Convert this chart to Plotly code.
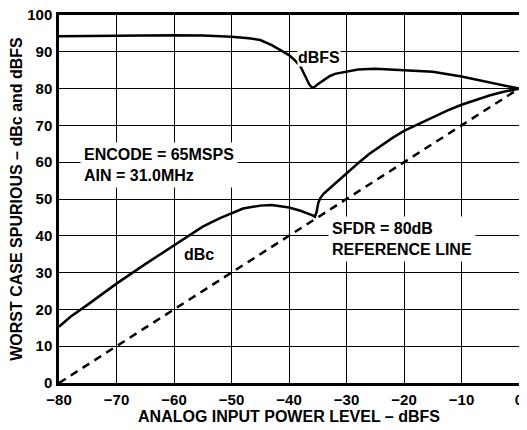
import plotly.graph_objects as go

# dBFS curve (worst case spurious, dBFS)
dbfs_x = [-80, -75, -70, -65, -60, -55, -50, -47, -45, -43, -41, -40, -39, -38, -37, -36.5, -36, -35.5, -35, -34, -33, -32, -30, -28, -25, -20, -15, -10, -5, 0]
dbfs_y = [94.2, 94.3, 94.4, 94.5, 94.5, 94.4, 94.1, 93.7, 93.2, 91.8, 90.0, 89.1, 87.7, 86.0, 82.8, 81.2, 80.2, 80.5, 81.2, 82.3, 83.3, 84.0, 84.7, 85.2, 85.4, 85.1, 84.6, 83.3, 81.6, 80.0]

# dBc curve
dbc_x = [-80, -78, -75, -70, -65, -60, -57.5, -55, -52, -50, -48, -45, -43, -40, -38, -36, -35.5, -35.2, -34.9, -34.5, -34, -33, -32, -30, -28, -26, -24, -22, -20, -17.5, -15, -12.5, -10, -7.5, -5, -2.5, 0]
dbc_y = [15.3, 18.0, 21.3, 27.0, 32.3, 37.5, 40.0, 42.5, 44.8, 46.0, 47.4, 48.2, 48.4, 47.7, 46.8, 45.6, 45.2, 46.5, 49.0, 50.4, 51.4, 52.8, 54.2, 57.0, 59.7, 62.3, 64.5, 66.6, 68.5, 70.3, 72.3, 74.0, 75.6, 77.0, 78.2, 79.2, 80.0]

# SFDR = 80dB reference line
ref_x = [-80, 0]
ref_y = [0, 80]

x_ticks = [-80, -70, -60, -50, -40, -30, -20, -10, 0]
y_ticks = [0, 10, 20, 30, 40, 50, 60, 70, 80, 90, 100]

FONT = "Liberation Sans"
tick_font = dict(family=FONT, size=15, color="#000000")

x_lo, x_hi = x_ticks[0], x_ticks[-1]
y_lo, y_hi = y_ticks[0], y_ticks[-1]

axis_common = dict(showgrid=True, gridcolor="#000000", gridwidth=1.3,
                   showline=True, linecolor="#000000", linewidth=2.5, mirror=True,
                   zeroline=False, automargin=False,
                   ticks="outside", ticklen=1, tickcolor="rgba(0,0,0,0)",
                   ticklabeloverflow="allow", tickfont=tick_font)

layout = go.Layout(
    width=519, height=422,
    margin=dict(l=51, r=8, t=7, b=47, autoexpand=False),
    plot_bgcolor="#ffffff", paper_bgcolor="#ffffff",
    template="none",
    showlegend=False,
    xaxis=dict(range=[x_lo, x_hi], tickmode="array", tickvals=x_ticks,
               ticktext=["<b>%s</b>" % ("\u2212%d" % -v if v < 0 else "%d" % v) for v in x_ticks],
               title=dict(text="<b>ANALOG INPUT POWER LEVEL – dBFS</b>",
                          font=dict(family=FONT, size=16, color="#000000"), standoff=5),
               **axis_common),
    yaxis=dict(range=[y_lo, y_hi], tickmode="array", tickvals=y_ticks,
               ticktext=["<b>%d</b>" % v for v in y_ticks],
               title=dict(text="<b>WORST CASE SPURIOUS – dBc and dBFS</b>",
                          font=dict(family=FONT, size=16, color="#000000"), standoff=6),
               **axis_common),
)

fig = go.Figure(layout=layout)

fig.add_trace(go.Scatter(x=ref_x, y=ref_y, mode="lines",
                         line=dict(color="#000000", width=2.5, dash="8px,6px")))
fig.add_trace(go.Scatter(x=dbfs_x, y=dbfs_y, mode="lines",
                         line=dict(color="#000000", width=2.5)))
fig.add_trace(go.Scatter(x=dbc_x, y=dbc_y, mode="lines",
                         line=dict(color="#000000", width=2.5)))

ann_font = dict(family=FONT, size=16, color="#000000")
fig.add_annotation(x=-76.4, y=59.2, xanchor="left", yanchor="middle", align="left",
                   text="<b>ENCODE = 65MSPS<br>AIN = 31.0MHz</b>", showarrow=False,
                   font=ann_font, bgcolor="#ffffff", borderpad=3)
fig.add_annotation(x=-33.2, y=39.1, xanchor="left", yanchor="middle", align="left",
                   text="<b>SFDR = 80dB<br>REFERENCE LINE</b>", showarrow=False,
                   font=ann_font, bgcolor="#ffffff", borderpad=3)
fig.add_annotation(x=-34.7, y=88.4, text="<b>dBFS</b>", showarrow=False,
                   font=ann_font, bgcolor="#ffffff", borderpad=0)
fig.add_annotation(x=-55.6, y=34.8, text="<b>dBc</b>", showarrow=False,
                   font=ann_font)

fig.write_html("out.html")
